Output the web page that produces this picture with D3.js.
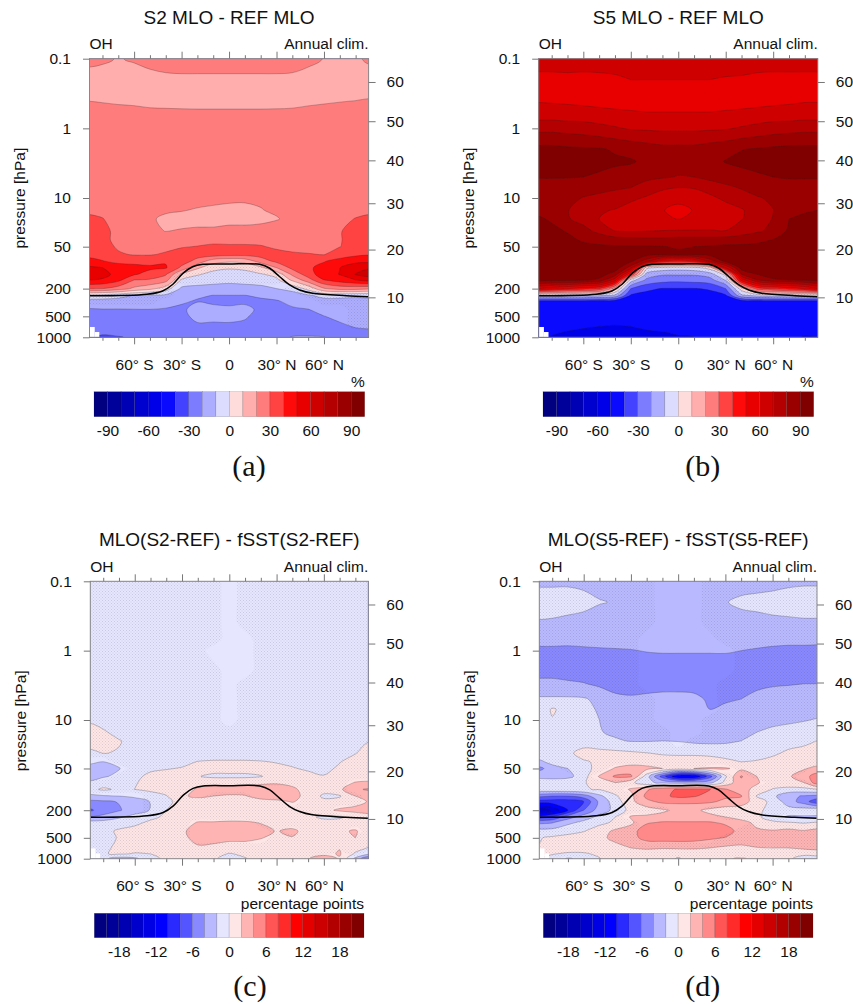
<!DOCTYPE html>
<html lang="en">
<head>
<meta charset="UTF-8">
<title>OH annual climatology differences</title>
<style>
    body{ margin:0; background:#fff; }
    text{ font-family:"Liberation Sans", Arial, sans-serif; fill:#111; }
    .tick line{ stroke:#777; }
    .domain{ display:none; }
</style>
</head>
<body>
<script src="https://cdn.jsdelivr.net/npm/d3@7"></script>
<script>

// grid of the cross sections
var latCols = [-88,-80,-70,-60,-50,-40,-30,-20,-10,0,10,20,30,40,50,60,70,80,88];
var levels = [0.1,0.2,0.4,0.7,1,2,3,5,7,10,15,20,30,40,50,65,80,100,125,150,200,250,300,400,500,700,850,1000];

// tick labels
var pressureTicks = [0.1,1,10,50,200,500,1000];
var altitudeTicks = [10,20,30,40,50,60];
var altitudePressure = [267,55,11.9,2.88,0.79,0.216]; // hPa at those km
var latMajor = [-60,-30,0,30,60];
var latMinor = [-80,-70,-50,-40,-20,-10,10,20,40,50,70,80];
var pctLabels = [-90,-60,-30,0,30,60,90];
var pointLabels = [-18,-12,-6,0,6,12,18];

// tropopause
var tropLat = [-88,-52,-42,-35.5,-29,-23,-16.6,0,19.4,25.7,32,38.3,44.6,52.8,74,88];
var tropP = [253,241,216,173,120,97,89.6,88.7,89.6,102,135,177,209,233,253,261];

// below ground cells
var groundLat = [-88.2,-84.9,-82];
var groundTop = [711,840];

// colour bars
var pctColors = ["#000080","#00009b","#0000b4","#0000cf","#0000e8","#0a0aff","#4343ff","#7c7cff","#adadff","#dcdcff",
    "#ffdcdc","#ffadad","#ff7c7c","#ff4343","#ff0a0a","#e80000","#cf0000","#b40000","#9b0000","#800000"];
var pointColors = ["#000080","#000099","#0000b2","#0000cc","#0000e5","#0000ff","#2a2aff","#5555ff","#8888ff","#b9b9ff","#e6e6ff",
    "#ffe6e6","#ffb4b4","#ff8888","#ff5555","#ff2a2a","#ff0000","#e50000","#cc0000","#b20000","#990000","#800000"];

var s2Mlo = [
[22,21.5,19.5,21,23,24,25,25,25,25,25,25,25,24,22,19.8,19,19,21],
[17,16,16,16,17,18,18,18,18,18,18,18,18,18,17,16,16,16,17],
[19.8,19.3,18.8,18.3,17.8,17.5,17.2,17,17,17,17,17,17.2,17.6,18.2,19,19.5,20,20.3],
[25,25,24,24,23,23,23,23,23,23,23,23,23,23,24,24,25,25,25],
[26,26,26,26,25,25,25,25,25,25,25,25,25,25,25,26,26,26,26],
[27,27,27,27,27,27,27,27,27,27,27,27,27,27,27,27,27,27,27],
[27,27,27,27,27,27,27,27,27,27,27,27,27,27,27,27,27,27,27],
[26,26,26,26,26,26,26,26,25,25,25,26,26,26,26,26,26,26,26],
[26,26,26,25,25,24,24,24,24,24,24,24,24,24,25,25,26,26,26],
[26,26,26,25,24,23,22,22,21.5,21,21,21,22,23,24,25,26,26,26],
[28,28,27,25,22.5,21,20.3,19.5,19,18.7,18.5,19.7,21,23,25,26,27,28,28],
[32,30.3,27,24,21,18.5,18,18,18,18,18,18,19.5,22,24,26,28,30.3,32],
[35,33,27,25,21,19.9,20.5,21,21,22,22,23,24,25,26,27,29.5,33,35],
[37,32,28,26,25,25,26,27,28.5,28,28,28,27,26,26,27,29.5,33,36],
[38,33,29,27,27,28,29.5,30.3,31,31,31,30.5,29,28,27.5,28,29.8,33,36],
[39,36,31,29.5,29.5,31,33,34,35,33,33,34,32,31,30.5,29.8,34,38,39.5],
[41,40.3,37,37,36,39,35,27,15,12,14,25,33,36,36,39,44,47,47],
[52,50,45,43,42,41,28,12,3,1,2,8,20,33,38,44,49.8,56,59],
[55,53,47,41,36,31,8,1,-3,-4,-3,-1,3,22,35,46,50.3,60.5,64],
[50,49,43,30,29,24,-1,-5,-7,-8,-7,-5,-2,12,26,40,45,50,54],
[31,30,25,18,13,5,-12,-13,-13,-13,-13,-13,-10,-7,3,19,24,24,22],
[-3,-4,-6,-10.5,-12,-12,-17,-19,-20.1,-20.1,-20.1,-19,-17,-14,-11,-7,-7,-8,-8],
[-13,-13,-14,-14,-14.5,-15,-19,-20.5,-21.5,-22,-21.5,-21,-20.5,-18,-15,-13,-13,-13,-12],
[-21,-20.5,-20.5,-20.3,-20.2,-21,-21.5,-17,-18,-18.5,-18,-21.5,-21,-21,-20.3,-17,-15,-14,-13.5],
[-24,-24,-23,-23,-23,-23,-23,-17,-17.5,-18.5,-19,-23,-22,-22,-22,-20.2,-18,-16.5,-15],
[-26,-27,-26,-26,-26,-25,-25,-22,-22,-21,-22,-24,-23,-23.5,-23.5,-23,-21.5,-19.5,-19],
[-28,-29,-28,-28,-28,-26,-26,-24,-24,-23,-24,-25,-25,-24.5,-24.5,-24.5,-24,-22,-21.5],
[-29,-31,-30.5,-29,-28,-27,-27,-26,-26,-25,-26,-26,-26,-19,-18.5,-19.5,-26,-25,-24]
];

var s5Mlo = [
[65,65,66,65,64,63,62,62,62,62,62,62,63,64,64,65,66,65,65],
[57,57,57,57,58,59,60,60,60,60,60,60,59.5,59,58,57,56.5,57,57],
[59,58.5,58,57,56,55,54.5,54,54,54,54,54,54.5,55,56,57,58,59,59],
[68,68,67,67,66,65,64,63,63,63,63,63,64,65,66,67,67,68,68],
[77,77,76,75,73,71,69,68.5,68,68,68,68.5,69,71,73,75,76,77,77],
[93,93,92,91.5,91,89,87,85,83,83,83,85,87,89.7,91,92,93,93,93],
[94,94,94,94,93,91.5,91,88,85,84,85,87,90.5,92,93.5,94,94,94,94],
[90.3,90.3,90.3,90,88.5,87,85,83,81,79.5,80,83,85,87,88.5,90,90.5,90.5,90.5],
[88,88,87.5,85,84,82,80.3,75,72,70.3,71,74,78,81,85,87,88,88,88],
[85,85,83,79.5,77,75,72,69,65,63,64,68,72,76,79,82,85,85,85],
[88,86,80.3,77,71,69.5,66,64,60.5,57,60.5,64,66,69,75,79.7,88.5,89.5,90],
[91,89,81,76,70,66,63,62,61,59.8,61,63,65,69.5,75,80.5,90,91,92],
[94,92,89.5,84,77,70,69.5,70,70.5,71,71,71,70.3,75,79,82,92,94,95],
[95,94,92,89,88,85,84,83,83,84,84,84,85,86,87,90.5,95,95,95],
[96,95,94,92,91,91,91,91,90.5,89,90,91,92,92,93,95,96,96,96],
[97,97,97,97,97,96,95,93,92,92,92,93,95,96,97,97,97,97,97],
[97,97,97,97,97,97,93,75,50,45,50,75,94,96,97,97,97,97,97],
[98,98,98,98,98,97,75,3,-3,-5,-3,5,60,95,98,98,98,98,98],
[97,97,97,97,95,85,40,-14,-19,-19,-19,-15,3,80,90,97,97,97,97],
[95,94,93,92,88,65,-4,-22,-26,-27,-26,-24,-9,55,80,88,90,92,94],
[60,55,50,45,40,15,-30,-38,-40.5,-40.5,-40.5,-39,-30,5,35,40,45,50,60],
[-4,-4,-4,-5,-8,-12,-41,-43,-43,-43,-43,-43,-41,-12,-6,-4,-3,-2,-2],
[-41,-41,-41,-41,-42,-43,-44,-44,-44,-44,-44,-44,-44,-43,-42,-41,-41,-41,-41],
[-45,-45,-45,-45,-45,-45,-45,-45,-45,-45,-45,-45,-45,-45,-45,-45,-45,-45,-45],
[-46,-46,-46,-46,-46,-46,-46,-46,-46,-46,-46,-46,-46,-46,-46,-46,-46,-46,-46],
[-47,-47.5,-48,-49,-50,-50.5,-50,-48.5,-47.5,-47,-47,-47,-46,-46,-46,-46,-46,-46,-46],
[-48,-49,-50.5,-52,-52,-53,-52,-51,-50.2,-49.5,-49,-48,-47,-47,-47,-47,-48,-49.3,-48],
[-48,-50.5,-53,-54,-54,-54,-53,-52,-51,-50.3,-50,-49.5,-48,-48,-48,-48,-49,-50.3,-50.2]
];

var s2Diff = [
[-1,-1,-1,-1,-1,-1,-1,-1,-1,-1,-1,-1,-1,-1,-1,-1,-1,-1,-1],
[-1,-1,-1,-1,-1,-1,-1,-1,-1,-1,-1,-1,-1,-1,-1,-1,-1,-1,-1],
[-1,-1,-1,-1,-1,-1,-1,-1,-1,-1,-1,-1,-1,-1,-1,-1,-1,-1,-1],
[-1,-1,-1,-1,-1,-1,-1,-1,-1,-1,-1,-1,-1,-1,-1,-1,-1,-1,-1],
[-1,-1,-1,-1,-1,-1,-1,-1,-1,-1,-1,-1,-1,-1,-1,-1,-1,-1,-1],
[-1,-1,-1,-1,-1,-1,-1,-1,-1,-1,-1,-1,-1,-1,-1,-1,-1,-1,-1],
[-1,-1,-1,-1,-1,-1,-1,-1,-1,-1,-1,-1,-1,-1,-1,-1,-1,-1,-1],
[-1,-1,-1,-1,-1,-1,-1,-1,-1,-1,-1,-1,-1,-1,-1,-1,-1,-1,-1],
[-1,-1,-1,-1,-1,-1,-1,-1,-1,-1,-1,-1,-1,-1,-1,-1,-1,-1,-1],
[-0.3,-0.6,-1,-1,-1,-1,-1,-1,-1,-1,-1,-1,-1,-1,-1,-1,-1,-1,-1],
[0.8,0.2,-0.5,-1,-1,-1,-1,-1,-1,-1,-1,-1,-1,-1,-1,-1,-1,-1,-1],
[0.9,0.8,0.1,-0.5,-1,-1,-1,-1,-1,-1,-1,-1,-1,-1,-1,-1,-1,-0.5,-0.1],
[-0.4,0.05,-0.1,-0.6,-1,-1,-1,-1,-1,-1,-1,-1,-1,-1,-1,-1,-0.6,-0.1,0.8],
[-1.5,-2,-1.5,-0.9,-0.7,-0.6,-0.4,0.05,0.2,0.2,0.2,0.1,-0.1,-0.3,-0.4,-0.4,-0.1,0.8,1],
[-3,-3.3,-2.1,-0.8,-0.4,-0.1,0.1,0.5,0.7,0.7,0.7,0.8,0.4,0.1,-0.2,-0.5,0.3,1,1],
[-2.5,-2.2,-1.6,-0.5,0.5,0.6,0.4,0.1,-0.4,-0.4,-0.4,-0.1,0.8,0.6,0.4,0.1,0.6,1,1],
[-1.8,-1,-0.6,-0.1,0.4,0.7,0.8,1.2,1.5,1.4,1.5,1.7,1.8,1.3,0.8,0.5,1.2,2.1,2.3],
[-0.5,0.3,-0.3,0.01,0.5,0.7,0.9,2.3,2.7,2.8,2.8,2.8,2.9,2.5,1,0.6,1.6,3.7,4.2],
[-2.5,-2.2,-2,-1.5,-1,-0.1,1.8,2.3,2,1.8,1.9,2.7,3,3,1,-0.3,-0.2,2,2.9],
[-4.5,-4.3,-3.9,-3.2,-1.9,-0.7,1,1.3,1.3,1.3,1.3,1.4,1.6,2.1,1.5,0.4,0.8,1.3,2.1],
[-6.3,-5,-4.2,-3,-1.9,0.01,1,1.3,1.3,1.3,1.3,1.3,1.2,1,0.9,1.5,2.3,2.6,2.8],
[-4,-3.5,-2.3,-1.3,-0.4,0.3,0.8,1.1,1.2,1.4,1.2,1.1,1,0.8,0.3,-0.3,-0.3,0.7,1.2],
[-1.3,-1.2,-1,-0.4,0.3,0.7,1.2,2.1,2.1,2.2,2.2,1.9,1.5,1,0.8,0.5,0.7,0.8,0.9],
[-1,-0.6,0.3,0.6,0.8,1,1.7,2.8,2.7,2.7,2.8,2.6,1.9,2.4,1.3,1,1.7,2.2,1],
[-0.7,-0.5,0.1,0.5,0.7,1,1.5,2.7,2.7,2.5,2.5,2.1,1.5,1.9,1,1,1.9,2,1],
[-0.6,-0.2,0.2,0.5,0.7,0.9,1.1,1.7,1.5,1.1,1.1,1,0.9,0.9,0.9,1,1.9,0.8,-0.1],
[-0.4,-0.1,0.2,-0.1,0.01,0.7,0.8,0.9,0.6,-0.1,0.3,0.7,0.8,0.9,0.9,1.4,2.2,-0.3,-1.5],
[-0.4,-1.5,-3,-2.5,-0.5,0.3,0.7,0.7,0.2,-0.6,-0.1,0.6,0.8,1.3,1.9,3.2,1.8,-2.5,-6]
];

var s5Diff = [
[-2.4,-2.4,-2.3,-2.4,-2.6,-2.8,-3,-3,-3,-3,-3,-3,-3,-2.9,-2.8,-2.7,-2.4,-2.3,-2.3],
[-1,-1,-1.2,-1.5,-1.9,-2.1,-2.6,-3,-3,-3,-3,-2.8,-2.1,-1.6,-1.4,-1.2,-1.1,-1,-1],
[-2.2,-2.3,-2.5,-2.6,-2.8,-2.8,-2.9,-3,-3,-3,-3,-3,-2.9,-2.8,-2.7,-2.5,-2.4,-2.3,-2.3],
[-3.4,-3.4,-3.4,-3.3,-3.2,-3.2,-3.2,-3.1,-3,-3,-3,-3.1,-3.2,-3.2,-3.3,-3.4,-3.5,-3.5,-3.5],
[-4.4,-4.4,-4.5,-4.4,-4.3,-4.2,-4.1,-3.9,-3.8,-3.8,-3.8,-3.8,-3.8,-4,-4.2,-4.4,-4.5,-4.5,-4.6],
[-4.5,-4.5,-4.8,-5,-5.2,-5.3,-5.4,-5.4,-5.4,-5.4,-5.4,-5.4,-5.3,-5.2,-5,-4.8,-4.7,-4.6,-4.5],
[-3.6,-3.6,-3.7,-3.9,-4.4,-4.8,-4.9,-4.7,-4.7,-4.7,-4.8,-4.9,-5,-4.8,-4.4,-4.2,-4.1,-4,-4],
[-1.7,-1.7,-1.7,-1.8,-2.5,-3.5,-3.7,-3.6,-3.4,-3.4,-3.5,-4.3,-4.2,-4,-3.5,-3.2,-3.2,-3.2,-3.1],
[-1.2,0.2,-0.6,-1.5,-2.2,-3,-3.2,-3.3,-3.2,-3.3,-3.5,-4,-3.7,-3.5,-3.3,-3,-2.8,-2.7,-2.6],
[-0.8,-0.1,-0.6,-1.2,-2,-2.6,-3,-3,-3,-3,-3,-3,-3,-3,-2.7,-2.5,-2.3,-2.1,-1.9],
[-0.9,-0.9,-1,-1.3,-1.9,-2.3,-2.6,-2.7,-2.6,-2.5,-2.5,-2.6,-2.6,-2.6,-2,-1.6,-1.4,-1.2,-1],
[-0.9,-0.9,-1,-1,-1.3,-1.8,-2.1,-2.1,-2,-2.1,-2.4,-2.5,-2.4,-2,-1.7,-1.2,-0.7,-0.5,0.01],
[-0.5,-0.4,-0.4,0.7,0.6,0.5,0.3,0.05,-0.2,-0.3,-0.3,-0.4,-0.5,-0.5,-0.5,-0.3,0.3,0.7,0.8],
[-2.5,-1.2,-0.6,-0.2,0.3,0.8,1,1.2,0.8,0.8,0.8,0.7,0.3,-0.01,0.1,0.5,1,1,1],
[-4.5,-3,-2,-0.5,0.5,2.2,3,2.5,2,1,2,2.2,2.2,1.5,1,1,1.2,1.8,2.6],
[-2.7,-3,-2.7,-0.8,2.2,4.3,4.3,-1,-7,-12,-12,-7,-0.3,4.2,2,1.3,1.7,3.2,5],
[-0.7,-0.5,-0.3,-0.2,1,2,0.5,-1.5,-2.5,-3,-3,-2.7,0.6,3.5,2.2,1,1.5,2,5],
[-0.6,-0.3,-0.2,-0.1,0.1,1,2.2,3.7,5.3,6.2,6.3,6.1,4.2,2.6,1.5,-0.1,-0.7,-0.6,-0.1],
[-5.5,-6,-6,-5,-2.5,-0.3,1.5,4.5,5.5,6.5,6.2,5.3,4.4,4.2,-0.2,-1.5,-3.5,-4.2,-4.5],
[-9,-9,-9,-8,-3.5,-1,1.5,3.5,4.5,4.5,4.5,4.4,3.5,3,1,-0.6,-3,-5,-7.5],
[-16,-13.5,-10,-6,-3,-1.5,0.7,1,1.7,2.5,2.4,1.5,1,0.9,0.2,-0.3,-1.2,-1,-0.5],
[-9,-8,-5,-3,-1.5,-0.01,2.2,2.4,2.6,2.7,2.7,2.5,2,1.2,0.5,-1.3,-2.2,-2.2,-2.4],
[-4.5,-4.2,-2.5,-1.5,-0.5,0.3,1.6,3.7,4.2,4.2,4.2,4.2,3.6,2.7,1.5,0.5,0.1,-0.2,0.1],
[-1.3,-1.2,-0.6,-0.1,1,2.4,3,5.4,5.5,5.5,5.5,5.5,5,3.2,2.3,2.2,2.6,2.2,2.7],
[-0.1,0.3,0.6,1,1.6,2.4,3.2,4.8,5,5,4.9,4.4,3.9,3.2,3.4,2.9,2.8,2.8,3],
[0.1,0.4,0.7,0.8,1,1.5,2,2.2,2.1,2.2,2.2,2,1.6,1.5,1.9,2,2,2.4,2.7],
[0.2,0.1,-0.2,-0.2,0.3,0.8,1.1,1.3,1,0.8,1,1.3,1.3,1.4,1.4,1.3,1,0.4,0.6],
[0.1,-0.5,-2.3,-1.3,-0.1,1.2,1.6,1.6,1.3,-0.3,1.3,1.6,1.9,2.1,1.8,1.2,0.3,-0.8,-0.8]
];

// not significant (stippled) cells, one string per level, one character per latitude
var none = "0000000000000000000", all = "1111111111111111111";
var s2MloDots = [none,none,none,none,none,none,none,none,none,none,none,none,none,none,none,none,none,
"0000000011110000000","0000001111111000000","0000001111111000000","0000010000000110000","1111110000000011111",
"1111100000000001111","0000000000000000011","0000000000000000011","0000000000000000011",none,none];
var s5MloDots = [none,none,none,none,none,none,none,none,none,none,none,none,none,none,none,none,none,
"0000000111110000000","0000000111111000000","0000001000001000000","0000010000000100000","1111110000000111111",
none,none,none,none,none,none];
var s2DiffDots = ["1111111110111111111","1111111110111111111","1111111110111111111","1111111110011111111","1111111100011111111",
"1111111110011111111","1111111110111111111","1111111110111111111","1111111110111111111","1111111110111111111",all,all,all,
"0011111111111111111","0001111111111111111","0011111111111111111","1111111111111111100","1111111000000011100",
"0000111011100011110","0000111111111011110","0000111111111111000","0001111111111111111","1111111000011111111",
"1111111000001011101","1111111000001111111",all,"1111111111111111010","1100111111111110100"];
var s5DiffDots = ["1111111100011111111","1111111100011111111","1111111100011111111","1111111000001111111","1111111000000111111",
"1111111000000111111","1111111000001111111","1111111100001111111","1111111100001111111","1111111100011111111",
"1111111110011111111","1111111110111111111",all,"0111111111111111111","0011100011100111110",
"0001000100001011100","1111111100001001110","1111110000000011111","0000011000000011000","0000011000000011000",
"0000011110011111111","0000110000001111000","0001111000000011111","1111111000000111111","1111111000001111111",all,all,"1101111111111111111"];

var pctSteps = d3.range(-100,100,10);
var pointSteps = d3.range(-22,22,2);

var panels = [
    {title:"S2 MLO - REF MLO", tag:"(a)", grid:s2Mlo, dots:s2MloDots, left:89.5, right:368.6, top:58.7, bottom:337.3,
     steps:pctSteps, colors:pctColors, labels:pctLabels, unit:"%", barL:94, barR:364.7, barT:391.7, barB:416.7, tagX:249, tagY:476},
    {title:"S5 MLO - REF MLO", tag:"(b)", grid:s5Mlo, dots:s5MloDots, left:538.7, right:817.8, top:58.7, bottom:337.3,
     steps:pctSteps, colors:pctColors, labels:pctLabels, unit:"%", barL:543, barR:813.7, barT:391.7, barB:416.7, tagX:702.7, tagY:476},
    {title:"MLO(S2-REF) - fSST(S2-REF)", tag:"(c)", grid:s2Diff, dots:s2DiffDots, left:90.3, right:368.3, top:581.3, bottom:858.7,
     steps:pointSteps, colors:pointColors, labels:pointLabels, unit:"percentage points", barL:94.3, barR:364, barT:913.3, barB:937.7, tagX:250, tagY:996},
    {title:"MLO(S5-REF) - fSST(S5-REF)", tag:"(d)", grid:s5Diff, dots:s5DiffDots, left:539.3, right:817, top:581.3, bottom:858.7,
     steps:pointSteps, colors:pointColors, labels:pointLabels, unit:"percentage points", barL:543.3, barR:813, barT:913.3, barB:937.7, tagX:702.7, tagY:996}
];

var canvas = d3.select("body").append("svg")
    .attr("width", 853)
    .attr("height", 1004)
    .style("display", "block");

var pattern = canvas.append("defs").append("pattern")
    .attr("id", "stipple")
    .attr("width", 3).attr("height", 3)
    .attr("patternUnits", "userSpaceOnUse");
pattern.selectAll("rect").data([[0,0],[1.5,1.5]]).enter().append("rect")
    .attr("x", function(d){ return d[0]; })
    .attr("y", function(d){ return d[1]; })
    .attr("width", 1).attr("height", 1)
    .attr("fill", "rgba(60,60,90,0.17)");

// one row and column more on each side so the contour outlines end outside the plot
function padded(rows){
    var ny = rows.length, nx = rows[0].length, out = [];
    for(var j = -1; j <= ny; j++){
        var row = rows[Math.max(0, Math.min(ny - 1, j))];
        for(var i = -1; i <= nx; i++){
            out.push(row[Math.max(0, Math.min(nx - 1, i))]);
        }
    }
    return out;
}

function drawPanel(p, n){
    var x = d3.scaleLinear().domain([-88.2, 88.2]).range([p.left, p.right]);
    var y = d3.scaleLog().domain([0.1, 1000]).range([p.top, p.bottom]);
    var colX = d3.scaleLinear().domain(d3.range(latCols.length)).range(latCols.map(x));
    var rowY = d3.scaleLinear().domain(d3.range(levels.length)).range(levels.map(y));

    var ringLine = d3.line()
        .x(function(c){ return colX(c[0] - 1.5); })
        .y(function(c){ return rowY(c[1] - 1.5); })
        .curve(d3.curveCatmullRomClosed.alpha(0.5));

    function contourPath(c){
        return c.coordinates.map(function(poly){
            return poly.map(function(ring){ return ringLine(ring.slice(0, -1)); }).join("");
        }).join("");
    }

    var contours = d3.contours().size([latCols.length + 2, levels.length + 2]);

    canvas.select("defs").append("clipPath").attr("id", "plot" + n).append("rect")
        .attr("x", p.left).attr("y", p.top)
        .attr("width", p.right - p.left).attr("height", p.bottom - p.top);

    var plot = canvas.append("g").attr("clip-path", "url(#plot" + n + ")");

    var color = d3.scaleOrdinal().domain(p.steps).range(p.colors);

    plot.selectAll("path.band")
        .data(contours.thresholds(p.steps)(padded(p.grid)))
        .enter().append("path")
        .attr("class", "band")
        .attr("d", contourPath)
        .attr("fill", function(d){ return color(d.value); })
        .attr("fill-rule", "evenodd")
        .attr("stroke", "rgba(30,30,30,0.5)")
        .attr("stroke-width", 0.5);

    var dotRows = p.dots.map(function(s){ return s.split("").map(Number); });
    plot.selectAll("path.dots")
        .data(contours.thresholds([0.5])(padded(dotRows)))
        .enter().append("path")
        .attr("class", "dots")
        .attr("d", contourPath)
        .attr("fill", "url(#stipple)")
        .attr("fill-rule", "evenodd");

    // below ground
    plot.selectAll("rect.ground").data(groundTop).enter().append("rect")
        .attr("class", "ground")
        .attr("x", function(d, i){ return x(groundLat[i]); })
        .attr("width", function(d, i){ return x(groundLat[i + 1]) - x(groundLat[i]); })
        .attr("y", function(d){ return y(d); })
        .attr("height", function(d){ return p.bottom - y(d); })
        .attr("fill", "#fff");

    // tropopause
    var trop = d3.line()
        .x(function(d){ return x(d); })
        .y(function(d, i){ return y(tropP[i]); })
        .curve(d3.curveCatmullRom.alpha(0.5));
    plot.append("path")
        .attr("d", trop(tropLat))
        .attr("fill", "none")
        .attr("stroke", "#000")
        .attr("stroke-width", 1.5);

    canvas.append("rect")
        .attr("x", p.left).attr("y", p.top)
        .attr("width", p.right - p.left).attr("height", p.bottom - p.top)
        .attr("fill", "none").attr("stroke", "#888").attr("stroke-width", 1);

    // axes
    var latFormat = function(d){ return d === 0 ? "0" : Math.abs(d) + "\u00b0 " + (d < 0 ? "S" : "N"); };
    function axisGroup(axis, tx, ty){
        var g = canvas.append("g").attr("transform", "translate(" + tx + "," + ty + ")").call(axis);
        g.selectAll("text").style("font-size", "15.5px").style("font-family", '"Liberation Sans"');
        return g;
    }
    axisGroup(d3.axisBottom(x).tickValues(latMajor).tickFormat(latFormat).tickSize(7).tickPadding(14.5), 0, p.bottom);
    axisGroup(d3.axisBottom(x).tickValues(latMinor).tickFormat("").tickSize(3.5), 0, p.bottom);
    axisGroup(d3.axisTop(x).tickValues(latMajor).tickFormat("").tickSize(7), 0, p.top);
    axisGroup(d3.axisTop(x).tickValues(latMinor).tickFormat("").tickSize(3.5), 0, p.top);
    axisGroup(d3.axisLeft(y).tickValues(pressureTicks).tickFormat(String).tickSize(6.5).tickPadding(12), p.left, 0);

    var kmY = d3.scaleOrdinal().domain(altitudeTicks).range(altitudePressure.map(y));
    axisGroup(d3.axisRight(kmY).tickValues(altitudeTicks).tickFormat(String).tickSize(7).tickPadding(11), p.right, 0);

    // texts
    canvas.append("text")
        .attr("x", (p.left + p.right) / 2).attr("y", p.top - 35)
        .attr("text-anchor", "middle").style("font-size", "19px").text(p.title);
    canvas.append("text")
        .attr("x", p.left).attr("y", p.top - 9.3)
        .style("font-size", "15.5px").text("OH");
    canvas.append("text")
        .attr("x", p.right).attr("y", p.top - 9.3)
        .attr("text-anchor", "end").style("font-size", "15.5px").text("Annual clim.");
    canvas.append("text")
        .attr("transform", "translate(" + (p.left - 64.5) + "," + (p.top + 139.5) + ") rotate(-90)")
        .attr("text-anchor", "middle").style("font-size", "15.5px").text("pressure [hPa]");

    // colour bar
    var edge = p.steps.concat([p.steps[p.steps.length - 1] + (p.steps[1] - p.steps[0])]);
    var barX = d3.scaleLinear().domain([edge[0], edge[edge.length - 1]]).range([p.barL, p.barR]);
    canvas.selectAll("rect.cell" + n).data(p.steps).enter().append("rect")
        .attr("class", "cell" + n)
        .attr("x", function(d){ return barX(d); })
        .attr("y", p.barT)
        .attr("width", barX(edge[1]) - barX(edge[0]))
        .attr("height", p.barB - p.barT)
        .attr("fill", function(d){ return color(d); })
        .attr("stroke", "rgba(30,30,30,0.3)")
        .attr("stroke-width", 0.5);
    axisGroup(d3.axisBottom(barX).tickValues(p.labels).tickFormat(String).tickSize(0).tickPadding(8.5), 0, p.barB);
    canvas.append("text")
        .attr("x", p.barR).attr("y", p.barT - 4.5)
        .attr("text-anchor", "end").style("font-size", "15.5px").text(p.unit);

    canvas.append("text")
        .attr("x", p.tagX).attr("y", p.tagY)
        .attr("text-anchor", "middle")
        .style("font-family", '"Liberation Serif", serif')
        .style("font-size", "30px")
        .text(p.tag);
}

panels.forEach(drawPanel);

</script>
</body>
</html>
